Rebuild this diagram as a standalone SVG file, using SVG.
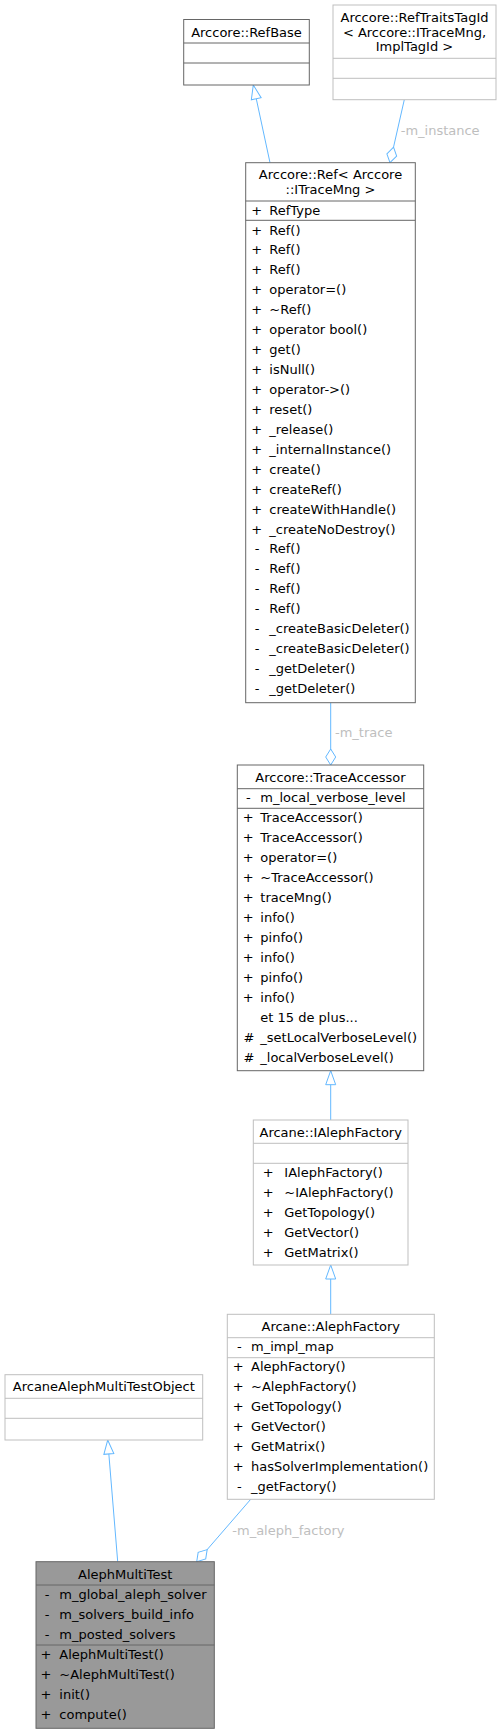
<svg xmlns="http://www.w3.org/2000/svg" width="501" height="1733" viewBox="0 0 501 1733">
<style>
text{font-family:"DejaVu Sans","Liberation Sans",sans-serif;font-size:13px;fill:#000}
.c{text-anchor:middle}
.dk{fill:#fff;stroke:#666666;stroke-width:1}
.lt{fill:#fff;stroke:#bfbfbf;stroke-width:1}
.sel{fill:#999999;stroke:#666666;stroke-width:1}
.ldk{stroke:#666666;stroke-width:1}
.llt{stroke:#bfbfbf;stroke-width:1}
.e{fill:none;stroke:#63b8ff;stroke-width:1}
.inh{marker-end:url(#tri)}
.agg{marker-end:url(#dia)}
.lbl{fill:#bebebe}
</style>
<defs>
<marker id="tri" markerUnits="userSpaceOnUse" markerWidth="17" markerHeight="13" refX="15" refY="6.5" orient="auto">
<path d="M1,1.5 L15,6.5 L1,11.5 Z" fill="#fff" stroke="#63b8ff" stroke-width="1"/>
</marker>
<marker id="dia" markerUnits="userSpaceOnUse" markerWidth="18" markerHeight="13" refX="16.5" refY="6.5" orient="auto">
<path d="M0.5,6.5 L8.5,1.5 L16.5,6.5 L8.5,11.5 Z" fill="#fff" stroke="#63b8ff" stroke-width="1"/>
</marker>
</defs>

<g id="connectors">
<path class="e inh" d="M270,162.7 L253.3,85"/>
<path class="e agg" d="M404.3,99.7 L390,162.7"/>
<text class="lbl" x="400.7" y="135.2">-m_instance</text>
<path class="e agg" d="M330.7,702.7 L330.7,765"/>
<text class="lbl" x="335" y="736.8">-m_trace</text>
<path class="e inh" d="M330.7,1120 L330.7,1070.7"/>
<path class="e inh" d="M330.7,1314.3 L330.7,1265"/>
<path class="e inh" d="M117.7,1561.7 L107.7,1440"/>
<path class="e agg" d="M250.7,1499.3 L196.7,1561.7"/>
<text class="lbl" x="232.3" y="1534.5">-m_aleph_factory</text>
</g>

<g id="RefBase">
<rect class="dk" x="183.7" y="19.5" width="125.6" height="65.5"/>
<line class="ldk" x1="183.7" y1="43" x2="309.3" y2="43"/>
<line class="ldk" x1="183.7" y1="63" x2="309.3" y2="63"/>
<text class="c" x="246.5" y="36.8">Arccore::RefBase</text>
</g>

<g id="RefTraitsTagId">
<rect class="lt" x="333" y="5" width="163" height="94.7"/>
<line class="llt" x1="333" y1="58.3" x2="496" y2="58.3"/>
<line class="llt" x1="333" y1="78.3" x2="496" y2="78.3"/>
<text class="c" x="414.5" y="21.5">Arccore::RefTraitsTagId</text>
<text class="c" x="414.5" y="36.5">&lt; Arccore::ITraceMng,</text>
<text class="c" x="414.5" y="51.2">ImplTagId &gt;</text>
</g>

<g id="Ref">
<rect class="dk" x="245.7" y="162.7" width="169.6" height="540"/>
<line class="ldk" x1="245.7" y1="201" x2="415.3" y2="201"/>
<line class="ldk" x1="245.7" y1="220.3" x2="415.3" y2="220.3"/>
<text class="c" x="330.5" y="178.8">Arccore::Ref&lt; Arccore</text>
<text class="c" x="330.5" y="193.8">::ITraceMng &gt;</text>
<text class="c" x="256.7" y="214.5">+</text><text x="269.3" y="214.5">RefType</text>
<text class="c" x="256.7" y="234.5">+</text><text x="269.3" y="234.5">Ref()</text>
<text class="c" x="256.7" y="254.4">+</text><text x="269.3" y="254.4">Ref()</text>
<text class="c" x="256.7" y="274.4">+</text><text x="269.3" y="274.4">Ref()</text>
<text class="c" x="256.7" y="294.3">+</text><text x="269.3" y="294.3">operator=()</text>
<text class="c" x="256.7" y="314.2">+</text><text x="269.3" y="314.2">~Ref()</text>
<text class="c" x="256.7" y="334.2">+</text><text x="269.3" y="334.2">operator bool()</text>
<text class="c" x="256.7" y="354.1">+</text><text x="269.3" y="354.1">get()</text>
<text class="c" x="256.7" y="374.0">+</text><text x="269.3" y="374.0">isNull()</text>
<text class="c" x="256.7" y="393.9">+</text><text x="269.3" y="393.9">operator-&gt;()</text>
<text class="c" x="256.7" y="413.9">+</text><text x="269.3" y="413.9">reset()</text>
<text class="c" x="256.7" y="433.8">+</text><text x="269.3" y="433.8">_release()</text>
<text class="c" x="256.7" y="453.7">+</text><text x="269.3" y="453.7">_internalInstance()</text>
<text class="c" x="256.7" y="473.7">+</text><text x="269.3" y="473.7">create()</text>
<text class="c" x="256.7" y="493.6">+</text><text x="269.3" y="493.6">createRef()</text>
<text class="c" x="256.7" y="513.5">+</text><text x="269.3" y="513.5">createWithHandle()</text>
<text class="c" x="256.7" y="533.5">+</text><text x="269.3" y="533.5">_createNoDestroy()</text>
<text class="c" x="257" y="553.4">-</text><text x="269.3" y="553.4">Ref()</text>
<text class="c" x="257" y="573.3">-</text><text x="269.3" y="573.3">Ref()</text>
<text class="c" x="257" y="593.2">-</text><text x="269.3" y="593.2">Ref()</text>
<text class="c" x="257" y="613.2">-</text><text x="269.3" y="613.2">Ref()</text>
<text class="c" x="257" y="633.1">-</text><text x="269.3" y="633.1">_createBasicDeleter()</text>
<text class="c" x="257" y="653.0">-</text><text x="269.3" y="653.0">_createBasicDeleter()</text>
<text class="c" x="257" y="673.0">-</text><text x="269.3" y="673.0">_getDeleter()</text>
<text class="c" x="257" y="692.9">-</text><text x="269.3" y="692.9">_getDeleter()</text>
</g>

<g id="TraceAccessor">
<rect class="dk" x="237.3" y="765" width="186.4" height="305.7"/>
<line class="ldk" x1="237.3" y1="788.7" x2="423.7" y2="788.7"/>
<line class="ldk" x1="237.3" y1="808.3" x2="423.7" y2="808.3"/>
<text class="c" x="330.5" y="781.8">Arccore::TraceAccessor</text>
<text class="c" x="248.3" y="802.2">-</text><text x="260.3" y="802.2">m_local_verbose_level</text>
<text class="c" x="248.3" y="822.2">+</text><text x="260.3" y="822.2">TraceAccessor()</text>
<text class="c" x="248.3" y="842.2">+</text><text x="260.3" y="842.2">TraceAccessor()</text>
<text class="c" x="248.3" y="862.1">+</text><text x="260.3" y="862.1">operator=()</text>
<text class="c" x="248.3" y="882.1">+</text><text x="260.3" y="882.1">~TraceAccessor()</text>
<text class="c" x="248.3" y="902.1">+</text><text x="260.3" y="902.1">traceMng()</text>
<text class="c" x="248.3" y="922.1">+</text><text x="260.3" y="922.1">info()</text>
<text class="c" x="248.3" y="942.0">+</text><text x="260.3" y="942.0">pinfo()</text>
<text class="c" x="248.3" y="962.0">+</text><text x="260.3" y="962.0">info()</text>
<text class="c" x="248.3" y="982.0">+</text><text x="260.3" y="982.0">pinfo()</text>
<text class="c" x="248.3" y="1001.9">+</text><text x="260.3" y="1001.9">info()</text>
<text x="260.3" y="1021.9">et 15 de plus...</text>
<text class="c" x="249" y="1041.9">#</text><text x="260.3" y="1041.9">_setLocalVerboseLevel()</text>
<text class="c" x="249" y="1061.8">#</text><text x="260.3" y="1061.8">_localVerboseLevel()</text>
</g>

<g id="IAlephFactory">
<rect class="lt" x="253.3" y="1120" width="154.7" height="145"/>
<line class="llt" x1="253.3" y1="1143.3" x2="408" y2="1143.3"/>
<line class="llt" x1="253.3" y1="1163.3" x2="408" y2="1163.3"/>
<text class="c" x="330.7" y="1136.8">Arcane::IAlephFactory</text>
<text class="c" x="268.3" y="1176.8">+</text><text x="284.3" y="1176.8">IAlephFactory()</text>
<text class="c" x="268.3" y="1196.8">+</text><text x="284.3" y="1196.8">~IAlephFactory()</text>
<text class="c" x="268.3" y="1216.8">+</text><text x="284.3" y="1216.8">GetTopology()</text>
<text class="c" x="268.3" y="1236.8">+</text><text x="284.3" y="1236.8">GetVector()</text>
<text class="c" x="268.3" y="1256.8">+</text><text x="284.3" y="1256.8">GetMatrix()</text>
</g>

<g id="AlephFactory">
<rect class="lt" x="227.3" y="1314.3" width="207" height="185"/>
<line class="llt" x1="227.3" y1="1337.7" x2="434.3" y2="1337.7"/>
<line class="llt" x1="227.3" y1="1357.7" x2="434.3" y2="1357.7"/>
<text class="c" x="330.8" y="1331.2">Arcane::AlephFactory</text>
<text class="c" x="239.3" y="1351.2">-</text><text x="251" y="1351.2">m_impl_map</text>
<text class="c" x="238.3" y="1371.2">+</text><text x="251" y="1371.2">AlephFactory()</text>
<text class="c" x="238.3" y="1391.2">+</text><text x="251" y="1391.2">~AlephFactory()</text>
<text class="c" x="238.3" y="1411.2">+</text><text x="251" y="1411.2">GetTopology()</text>
<text class="c" x="238.3" y="1431.2">+</text><text x="251" y="1431.2">GetVector()</text>
<text class="c" x="238.3" y="1451.2">+</text><text x="251" y="1451.2">GetMatrix()</text>
<text class="c" x="238.3" y="1471.2">+</text><text x="251" y="1471.2">hasSolverImplementation()</text>
<text class="c" x="239.3" y="1491.2">-</text><text x="251" y="1491.2">_getFactory()</text>
</g>

<g id="ArcaneAlephMultiTestObject">
<rect class="lt" x="5" y="1374.7" width="197.7" height="65.3"/>
<line class="llt" x1="5" y1="1398.3" x2="202.7" y2="1398.3"/>
<line class="llt" x1="5" y1="1418.3" x2="202.7" y2="1418.3"/>
<text class="c" x="103.8" y="1390.5">ArcaneAlephMultiTestObject</text>
</g>

<g id="AlephMultiTest">
<rect class="sel" x="36" y="1561.7" width="178.3" height="166.6"/>
<line class="ldk" x1="36" y1="1585" x2="214.3" y2="1585"/>
<line class="ldk" x1="36" y1="1645" x2="214.3" y2="1645"/>
<text class="c" x="125.2" y="1578.8">AlephMultiTest</text>
<text class="c" x="47" y="1598.8">-</text><text x="59.3" y="1598.8">m_global_aleph_solver</text>
<text class="c" x="47" y="1618.8">-</text><text x="59.3" y="1618.8">m_solvers_build_info</text>
<text class="c" x="47" y="1638.8">-</text><text x="59.3" y="1638.8">m_posted_solvers</text>
<text class="c" x="46" y="1658.8">+</text><text x="59.3" y="1658.8">AlephMultiTest()</text>
<text class="c" x="46" y="1678.8">+</text><text x="59.3" y="1678.8">~AlephMultiTest()</text>
<text class="c" x="46" y="1698.8">+</text><text x="59.3" y="1698.8">init()</text>
<text class="c" x="46" y="1718.8">+</text><text x="59.3" y="1718.8">compute()</text>
</g>
</svg>
